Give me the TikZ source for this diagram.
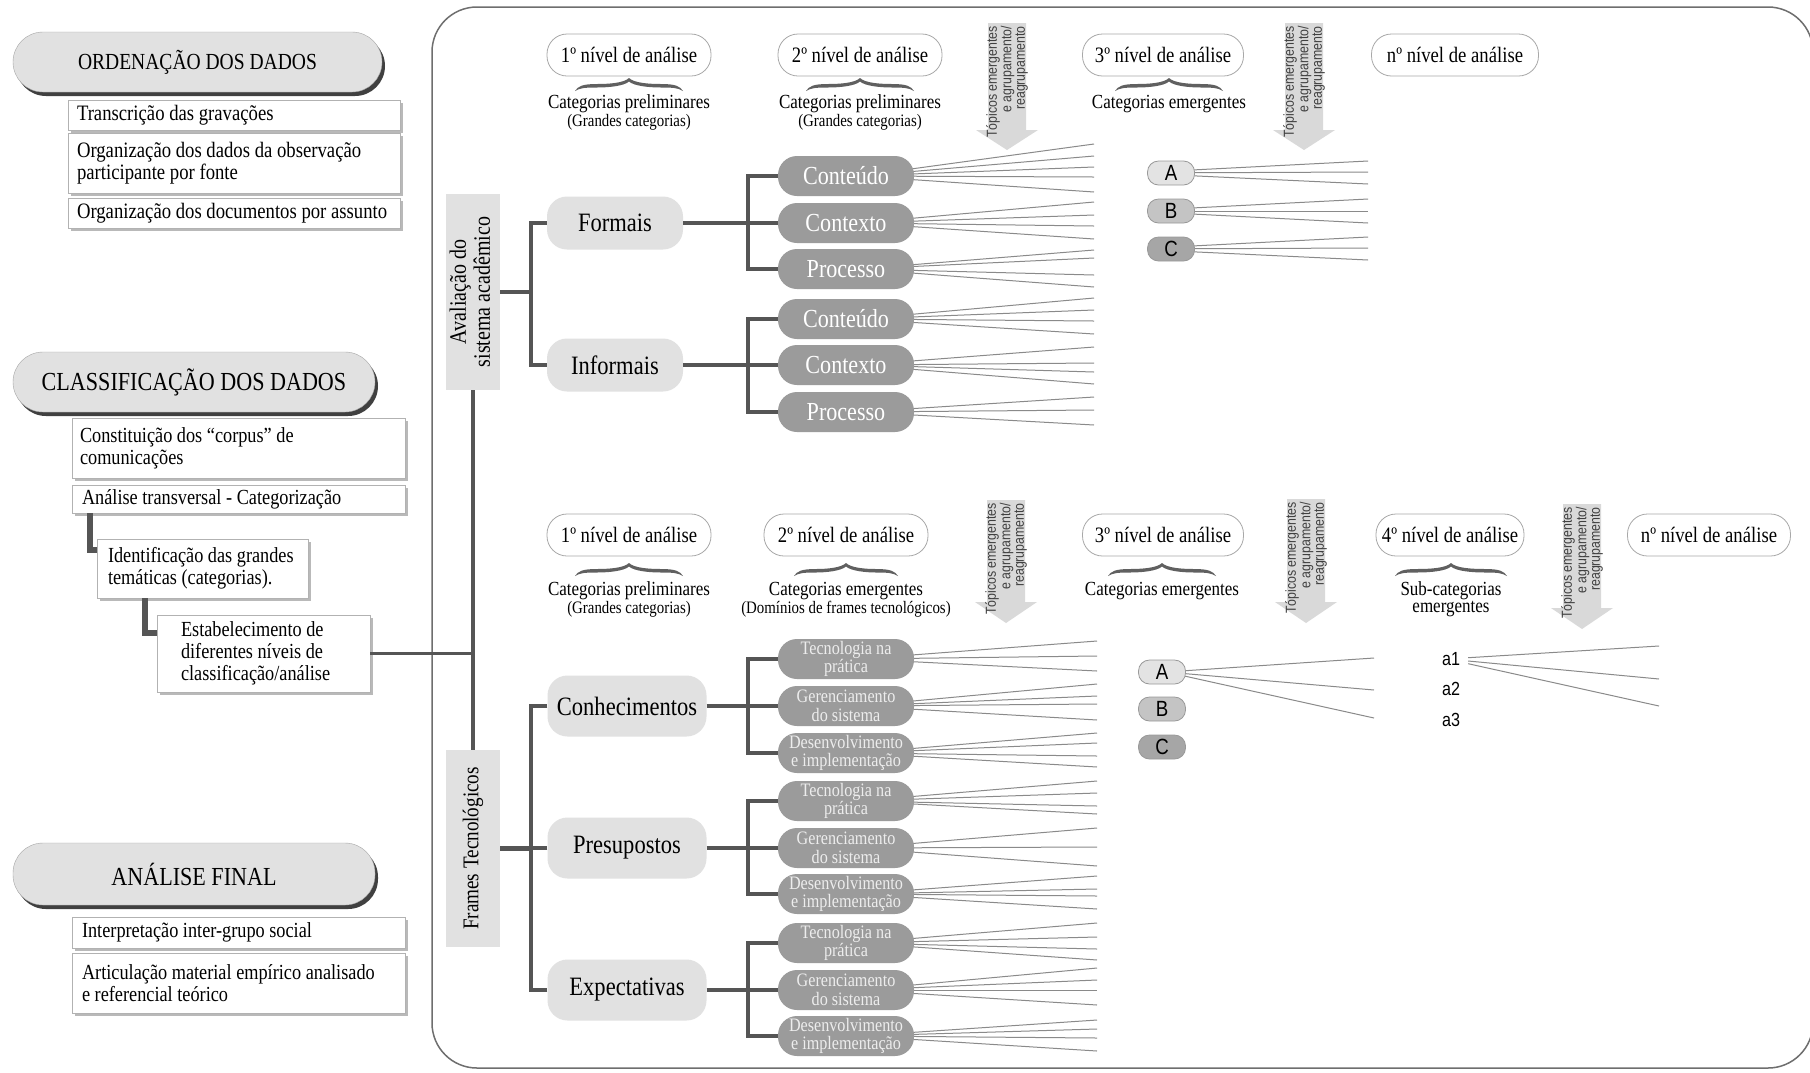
\documentclass[tikz,border=0pt]{standalone}
\usepackage{graphicx}
\usepackage{fontspec}
\setmainfont{Liberation Serif}[FakeStretch=0.85]
\newfontfamily\sansf{Liberation Sans}[FakeStretch=0.85]
\usetikzlibrary{shadows,calc}
\pgfdeclarelayer{background}
\pgfsetlayers{background,main}

\definecolor{lightfill}{HTML}{E1E1E1}
\definecolor{darkfill}{HTML}{9B9B9B}
\definecolor{connc}{HTML}{555555}
\definecolor{fanc}{HTML}{8A8A8A}
\definecolor{arrc}{HTML}{D9D9D9}
\definecolor{bracec}{HTML}{606060}
\definecolor{framec}{HTML}{6E6E6E}
\definecolor{pillb}{HTML}{A8A8A8}
\definecolor{fillA}{HTML}{E3E3E3}
\definecolor{fillB}{HTML}{C4C4C4}
\definecolor{fillC}{HTML}{A6A6A6}

\newcommand\fs[2]{\fontsize{#1}{#2}\selectfont}

\tikzset{
 lpill/.style={draw=gray!70, fill=lightfill, rounded corners=30pt, minimum height=60pt, inner sep=0pt,
   drop shadow={shadow xshift=3pt, shadow yshift=-4pt, fill=black!75, opacity=1}},
 lbox/.style={draw=gray!60, fill=white, align=flush left, inner ysep=0pt, inner xsep=10pt, font=\fs{21.5}{22},
   drop shadow={shadow xshift=3pt, shadow yshift=-3pt, fill=gray!55, opacity=1}},
 lvl/.style={draw=pillb, line width=0.8pt, fill=white, rounded corners=20pt, minimum height=42pt, minimum width=164pt, inner sep=0pt, font=\fs{22}{24}},
 catt/.style={font=\fs{20}{22}, inner sep=0pt},
 catp/.style={font=\fs{17.5}{20}, inner sep=0pt},
 vbox/.style={fill=lightfill, minimum width=54pt, inner sep=0pt},
 lnode/.style={fill=lightfill, rounded corners=20pt, minimum width=136pt, minimum height=53pt, inner sep=0pt, font=\fs{26.5}{28}},
 dnode/.style={fill=darkfill, text=white, rounded corners=19pt, minimum width=136pt, minimum height=40pt, inner sep=0pt, font=\fs{26}{28}},
 dnode2/.style={dnode, text=white!93!black, font=\fs{19}{18.5}, align=center},
 abc/.style={draw=gray!80, line width=0.8pt, rounded corners=11pt, minimum width=47pt, minimum height=24pt, inner sep=0pt, font=\sansf\fs{22}{22}},
 subt/.style={font=\sansf\fs{19}{20}, inner sep=1pt},
 conn/.style={draw=connc, line width=4pt},
 conn3/.style={draw=connc, line width=6pt},
 fanline/.style={draw=fanc, line width=1pt},
 arrtxt/.style={font=\sansf\fs{14.5}{11.5}, align=right, inner sep=0pt, text=black!75},
}

% fan of thin lines: node, end x, centre y, start spread factor, end offsets
\newcommand\fan[5]{\foreach \ofs in {#5}{\draw[fanline] ([xshift=-3pt,yshift={-#4*(\ofs)*1pt}]#1.east) -- ({#2},{#3+(\ofs)});}}

% curly brace: cx, cy, half width
\newcommand\curly[3]{%
\begin{scope}[shift={(#1,#2)}]
\fill[bracec] (-#3,6) .. controls (-#3+3,1) and (-#3+8,-1) .. (-#3+22,-1)
 .. controls (-20,-1) and (-5,-2) .. (0,-7)
 .. controls (5,-2) and (20,-1) .. (#3-22,-1)
 .. controls (#3-8,-1) and (#3-3,1) .. (#3,6)
 .. controls (#3-5,3) and (#3-9,2.5) .. (#3-22,2.5)
 .. controls (20,2.5) and (5,1) .. (0,-3.5)
 .. controls (-5,1) and (-20,2.5) .. (-#3+22,2.5)
 .. controls (-#3+9,2.5) and (-#3+5,3) .. (-#3,6) -- cycle;
\end{scope}}

% down arrow with text: cx, top, head base, tip, name
\newcommand\arrowdn[5]{%
\fill[arrc] (#1-19,#2) -- (#1+19,#2) -- (#1+19,#3) -- (#1+31,#3) -- (#1,#4) -- (#1-31,#3) -- (#1-19,#3) -- cycle;
\node[arrtxt, rotate=90, anchor=east] (#5) at (#1,#2+3) {Tópicos emergentes\\e agrupamento/\\reagrupamento};}

\begin{document}
\begin{tikzpicture}[x=1pt,y=-1pt]
\useasboundingbox (0,0) rectangle (1810,1072);
\begin{pgfonlayer}{background}
\fill[white] (0,0) rectangle (1810,1072);
\end{pgfonlayer}
\draw[framec, line width=1.5pt, rounded corners=45pt] (432,7) rectangle (1813,1068);

% ---------------- left column ----------------
\node[lpill, minimum width=369pt, font=\fs{23}{27}] (ord) at (197.5,62) {ORDENAÇÃO DOS DADOS};
\node[lbox, text width=314pt, inner xsep=9pt, minimum height=30pt, font=\fs{22}{22}] (t1) at (234,115) {Transcrição das gravações};
\node[lbox, text width=314pt, inner xsep=9pt, minimum height=60pt, font=\fs{22}{22}] (t2) at (234,163) {Organização dos dados da observação\\participante por fonte};
\node[lbox, text width=314pt, inner xsep=9pt, minimum height=30pt, font=\fs{22}{22}] (t3) at (234,213) {Organização dos documentos por assunto};

\node[lpill, minimum width=362pt, font=\fs{26}{28}] (cla) at (194,382) {CLASSIFICAÇÃO DOS DADOS};
\node[lbox, text width=317pt, inner xsep=8pt, minimum height=60pt] (c1) at (238.5,448) {Constituição dos “corpus” de\\comunicações};
\node[lbox, text width=313pt, minimum height=28pt] (ana) at (238.5,499) {Análise transversal - Categorização};
\node[lbox, text width=189pt, inner xsep=11pt, minimum height=59pt] (ident) at (202.5,568.5) {Identificação das grandes\\temáticas (categorias).};
\node[lbox, text width=165pt, inner xsep=24pt, minimum height=77pt] (estab) at (263.5,653.5) {Estabelecimento de\\diferentes níveis de\\classificação/análise};

\draw[conn3] ([xshift=18pt]ana.south west) |- ([yshift=-11pt]ident.north west);
\draw[conn3] ([xshift=48pt]ident.south west) |- ([yshift=-18pt]estab.north west);

\node[lpill, minimum width=362pt, minimum height=62pt, font=\fs{26}{28}] (anf) at (194,874) {ANÁLISE FINAL};
\node[lbox, text width=313pt, minimum height=31pt] (f1) at (238.5,932.5) {Interpretação inter-grupo social};
\node[lbox, text width=313pt, minimum height=60pt] (f2) at (238.5,983) {Articulação material empírico analisado\\e referencial teórico};

% ---------------- top headers ----------------
\node[lvl] (l1) at (629,55) {1º nível de análise};
\node[lvl] (l2) at (860,55) {2º nível de análise};
\node[lvl, minimum width=161pt] (l3) at (1163,55) {3º nível de análise};
\node[lvl, minimum width=167pt] (ln) at (1455,55) {nº nível de análise};
\curly{629}{85}{54}
\curly{860}{85}{54}
\curly{1169}{85}{54}
\node[catt] (tc1) at (629,104) {Categorias preliminares};
\node[catp] (tp1) at (629,122) {(Grandes categorias)};
\node[catt] (tc2) at (860,104) {Categorias preliminares};
\node[catp] (tp2) at (860,122) {(Grandes categorias)};
\node[catt] (tc3) at (1169,104) {Categorias emergentes};
\arrowdn{1007}{23}{130}{150}{ar1}
\arrowdn{1304}{23}{130}{150}{ar2}

% ---------------- top tree ----------------
\node[vbox, minimum height=196pt] (aval) at (473,292) {\rotatebox{90}{\fs{23.5}{24}\begin{tabular}{@{}c@{}}Avaliação do\\sistema acadêmico\end{tabular}}};
\node[lnode] (formais) at (615,223) {Formais};
\node[lnode] (informais) at (615,365) {Informais};
\node[dnode] (cA1) at (846,176) {Conteúdo};
\node[dnode] (cA2) at (846,223) {Contexto};
\node[dnode] (cA3) at (846,269) {Processo};
\node[dnode] (cB1) at (846,319) {Conteúdo};
\node[dnode] (cB2) at (846,365) {Contexto};
\node[dnode] (cB3) at (846,412) {Processo};

\draw[conn] (formais.west) -- ++(-16,0) |- (aval.east);
\draw[conn] (informais.west) -- ++(-16,0) |- (aval.east);
\draw[conn] (formais.east) -- (cA2.west);
\draw[conn] (cA1.west) -- ++(-30,0) |- (cA3.west);
\draw[conn] (informais.east) -- (cB2.west);
\draw[conn] (cB1.west) -- ++(-30,0) |- (cB3.west);

\node[abc, fill=fillA] (tA) at (1171,173) {A};
\node[abc, fill=fillB] (tB) at (1171,211) {B};
\node[abc, fill=fillC] (tC) at (1171,249) {C};

% ---------------- bottom headers ----------------
\node[lvl] (b1) at (629,535) {1º nível de análise};
\node[lvl] (b2) at (846,535) {2º nível de análise};
\node[lvl, minimum width=161pt] (b3) at (1163,535) {3º nível de análise};
\node[lvl, minimum width=148pt] (b4) at (1450,535) {4º nível de análise};
\node[lvl, minimum width=163pt] (bn) at (1709,535) {nº nível de análise};
\curly{629}{570}{54}
\curly{846}{570}{52}
\curly{1162}{570}{54}
\curly{1451}{570}{56}
\node[catt] (bc1) at (629,591) {Categorias preliminares};
\node[catp] (bp1) at (629,609) {(Grandes categorias)};
\node[catt] (bc2) at (846,591) {Categorias emergentes};
\node[catp] (bp2) at (846,609) {(Domínios de frames tecnológicos)};
\node[catt] (bc3) at (1162,591) {Categorias emergentes};
\node[catt] (bc4) at (1451,591) {Sub-categorias};
\node[catt] (bp4) at (1451,609) {emergentes};
\arrowdn{1006}{500}{602}{623}{ar3}
\arrowdn{1306}{499}{602}{623}{ar4}
\arrowdn{1582}{504}{608}{629}{ar5}

% ---------------- bottom tree ----------------
\node[vbox, minimum height=197pt] (frames) at (473,848.5) {\rotatebox{90}{\fs{22.5}{23}Frames Tecnológicos}};
\node[lnode, minimum width=159pt, minimum height=61pt] (conh) at (627,706) {Conhecimentos};
\node[lnode, minimum width=159pt, minimum height=61pt] (pres) at (627,848) {Presupostos};
\node[lnode, minimum width=159pt, minimum height=61pt] (expe) at (627,990) {Expectativas};

\node[dnode2] (g1a) at (846,659) {Tecnologia na\\prática};
\node[dnode2] (g1b) at (846,706) {Gerenciamento\\do sistema};
\node[dnode2] (g1c) at (846,753) {Desenvolvimento\\e implementação};
\node[dnode2] (g2a) at (846,801) {Tecnologia na\\prática};
\node[dnode2] (g2b) at (846,848) {Gerenciamento\\do sistema};
\node[dnode2] (g2c) at (846,894) {Desenvolvimento\\e implementação};
\node[dnode2] (g3a) at (846,943) {Tecnologia na\\prática};
\node[dnode2] (g3b) at (846,990) {Gerenciamento\\do sistema};
\node[dnode2] (g3c) at (846,1036) {Desenvolvimento\\e implementação};

\draw[conn] (aval.south) -- (frames.north);
\draw[line width=3.5pt, connc] (estab.east) -- (estab.east -| aval.south);
\draw[conn] (conh.west) -- ++(-16,0) |- (frames.east);
\draw[conn] (pres.west) -- (frames.east |- pres.west);
\draw[conn] (expe.west) -- ++(-16,0) |- (frames.east);
\draw[conn] (conh.east) -- (g1b.west);
\draw[conn] (g1a.west) -- ++(-30,0) |- (g1c.west);
\draw[conn] (pres.east) -- (g2b.west);
\draw[conn] (g2a.west) -- ++(-30,0) |- (g2c.west);
\draw[conn] (expe.east) -- (g3b.west);
\draw[conn] (g3a.west) -- ++(-30,0) |- (g3c.west);

\node[abc, fill=fillA] (uA) at (1162,672) {A};
\node[abc, fill=fillB] (uB) at (1162,709) {B};
\node[abc, fill=fillC] (uC) at (1162,747) {C};
\node[subt] (a1) at (1451,659) {a1};
\node[subt] (a2) at (1451,689) {a2};
\node[subt] (a3) at (1451,720) {a3};

% ---------------- fans ----------------
\begin{pgfonlayer}{background}
\fan{cA1}{1094}{176}{0.22}{-32,-20,-9,1,16}
\fan{cA2}{1094}{223}{0.22}{-21,-8,3,16}
\fan{cA3}{1094}{269}{0.22}{-19,-11,6,18}
\fan{cB1}{1094}{319}{0.22}{-21,-9,2,15}
\fan{cB2}{1094}{365}{0.22}{-18,-2,7,19}
\fan{cB3}{1094}{412}{0.22}{-15,-2,13}
\fan{g1a}{1097}{659}{0.22}{-18,-3,12}
\fan{g1b}{1097}{706}{0.22}{-22,-10,-2,14}
\fan{g1c}{1097}{753}{0.22}{-20,-10,3,14}
\fan{g2a}{1097}{801}{0.22}{-20,-8,5,13}
\fan{g2b}{1097}{848}{0.22}{-20,-1,18}
\fan{g2c}{1097}{894}{0.22}{-18,-5,2,15}
\fan{g3a}{1097}{943}{0.22}{-20,-6,6,17}
\fan{g3b}{1097}{990}{0.22}{-22,-10,0,15}
\fan{g3c}{1097}{1036}{0.22}{-16,-7,2,15}
\fan{tA}{1368}{173}{0.25}{-12,-1,11}
\fan{tB}{1368}{211}{0.25}{-12,0,12}
\fan{tC}{1368}{249}{0.25}{-12,-1,11}
\fan{uA}{1374}{672}{0.08}{-14,18,46}
\foreach \ofs in {-13,20,47}{\draw[fanline] ([xshift=7pt,yshift={-0.1*(\ofs)*1pt}]a1.east) -- ({1659},{659+(\ofs)});}
\end{pgfonlayer}
\end{tikzpicture}
\end{document}
